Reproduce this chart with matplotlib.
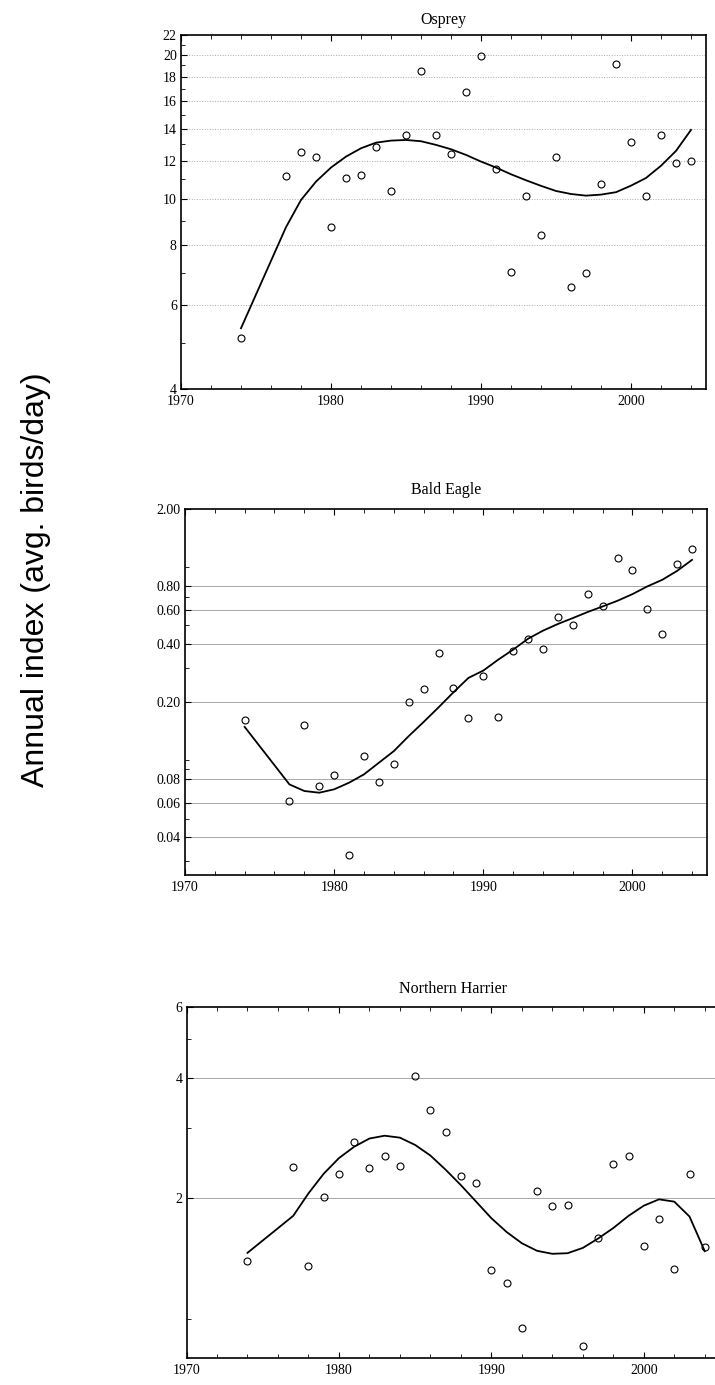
import matplotlib
matplotlib.use('Agg')
import matplotlib.pyplot as plt
import matplotlib.ticker as mticker

years = [1974, 1977, 1978, 1979, 1980, 1981, 1982, 1983, 1984, 1985, 1986, 1987,
         1988, 1989, 1990, 1991, 1992, 1993, 1994, 1995, 1996, 1997, 1998, 1999,
         2000, 2001, 2002, 2003, 2004]

# annual indices (points) and fitted trend (line)
osprey_obs = [5.11, 11.18, 12.5, 12.25, 8.73, 11.04, 11.19, 12.83, 10.38, 13.57,
              18.47, 13.6, 12.41, 16.75, 19.89, 11.55, 7.02, 10.14, 8.39, 12.21,
              6.53, 6.98, 10.76, 19.17, 13.12, 10.14, 13.57, 11.88, 11.97]
osprey_fit = [5.36, 8.72, 9.94, 10.86, 11.62, 12.25, 12.75, 13.1, 13.23, 13.27,
              13.19, 12.96, 12.69, 12.35, 11.96, 11.62, 11.25, 10.93, 10.64, 10.38,
              10.23, 10.15, 10.2, 10.32, 10.65, 11.05, 11.72, 12.59, 13.93]

eagle_obs = [0.161, 0.0614, 0.153, 0.0739, 0.0836, 0.0324, 0.105, 0.0769, 0.0957,
             0.201, 0.233, 0.361, 0.237, 0.165, 0.272, 0.167, 0.367, 0.426, 0.377,
             0.554, 0.50, 0.728, 0.626, 1.118, 0.965, 0.607, 0.453, 1.04, 1.249]
eagle_fit = [0.149, 0.0751, 0.0694, 0.068, 0.0708, 0.0766, 0.0846, 0.0972, 0.1116,
             0.1335, 0.158, 0.188, 0.225, 0.267, 0.2915, 0.332, 0.374, 0.426, 0.469,
             0.508, 0.545, 0.586, 0.626, 0.67, 0.725, 0.795, 0.86, 0.957, 1.091]

harrier_obs = [1.396, 2.39, 1.354, 2.02, 2.30, 2.76, 2.386, 2.55, 2.41, 4.03,
               3.32, 2.92, 2.27, 2.19, 1.324, 1.232, 0.95, 2.09, 1.91, 1.93,
               0.858, 1.59, 2.44, 2.553, 1.52, 1.775, 1.33, 2.30, 1.514]
harrier_fit = [1.463, 1.809, 2.058, 2.304, 2.52, 2.69, 2.82, 2.866, 2.834, 2.718,
               2.558, 2.358, 2.158, 1.963, 1.785, 1.649, 1.546, 1.48, 1.455, 1.46,
               1.505, 1.588, 1.687, 1.809, 1.918, 1.989, 1.963, 1.802, 1.477]

osprey_ticks = [4, 6, 8, 10, 12, 14, 16, 18, 20, 22]
osprey_minor = [5, 7, 9, 11, 13, 15, 17, 19, 21]
eagle_ticks = [0.04, 0.06, 0.08, 0.20, 0.40, 0.60, 0.80, 2.00]
eagle_minor = [0.03, 0.05, 0.09, 0.1, 0.3, 0.5, 0.7, 1.0]
harrier_ticks = [2, 4, 6]
harrier_minor = [1, 3, 5]

W, H = 715, 1385
fig = plt.figure(figsize=(W / 100, H / 100), dpi=100)
serif = 'Liberation Serif'


def box(l, t, r, b):
    return [l / W, 1 - b / H, (r - l) / W, (b - t) / H]


panels = [
    ('Osprey', osprey_obs, osprey_fit, (4, 22), osprey_ticks, osprey_minor, '%d',
     box(181, 35, 706, 389), ':', 8),
    ('Bald Eagle', eagle_obs, eagle_fit, (0.0255, 2.0), eagle_ticks, eagle_minor, '%.2f',
     box(185, 509, 707, 875), '-', 10.5),
    ('Northern Harrier', harrier_obs, harrier_fit, (0.8, 6), harrier_ticks, harrier_minor, '%d',
     box(186.5, 1007, 720, 1358), '-', 10),
]

for name, obs, fit, ylim, ticks, minor, fmt, pos, gls, pad in panels:
    ax = fig.add_axes(pos)
    ax.set_yscale('log')
    ax.plot(years, fit, color='black', lw=1.3, zorder=3)
    ax.plot(years, obs, 'o', ms=5, mfc='none', mec='black', mew=0.8, zorder=4)
    ax.set_xlim(1970, 2005)
    ax.set_ylim(*ylim)
    ax.set_xticks([1970, 1980, 1990, 2000])
    ax.set_xticks(range(1972, 2005, 2), minor=True)
    ax.set_yticks(ticks)
    ax.set_yticks(minor, minor=True)
    ax.yaxis.set_major_formatter(mticker.FormatStrFormatter(fmt))
    ax.yaxis.set_minor_formatter(mticker.NullFormatter())
    for t in ticks:
        if ylim[0] < t < ylim[1] * 0.99:
            ax.axhline(t, color='#a8a8a8', lw=0.7, ls=gls, zorder=1)
    ax.tick_params(which='both', direction='in', top=True, right=False,
                   labelsize=10, pad=3)
    ax.tick_params(axis='x', pad=4)
    ax.tick_params(which='major', length=4)
    ax.tick_params(which='minor', length=3)
    for lab in ax.get_xticklabels() + ax.get_yticklabels():
        lab.set_family(serif)
    for s in ax.spines.values():
        s.set_linewidth(1.2)
    ax.set_title(name, family=serif, fontsize=11.5, pad=pad)

fig.text(36 / W, 1 - 580 / H, 'Annual index (avg. birds/day)', rotation=90,
         ha='center', va='center', fontsize=23, family='Liberation Sans')

fig.savefig('out.png', dpi=100)
